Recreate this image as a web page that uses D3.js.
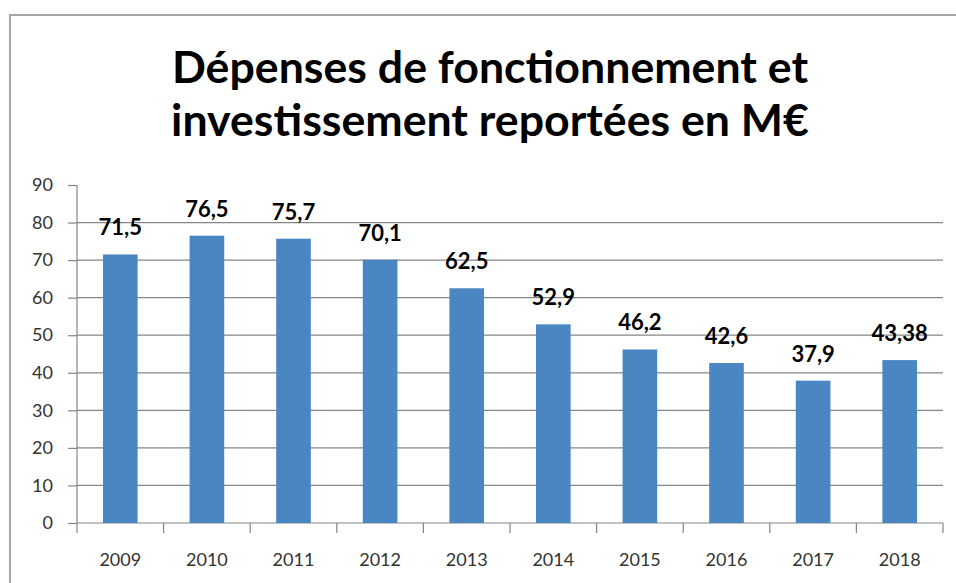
<!DOCTYPE html>
<html>
<head>
<meta charset="utf-8">
<script src="https://cdn.jsdelivr.net/npm/d3@7/dist/d3.min.js"></script>
<style>
  body { margin: 0; background: #fff; }
  svg { display: block; }
</style>
</head>
<body>
<svg id="chart" width="956" height="583"></svg>
<script>
const titleLines = ["Dépenses de fonctionnement et", "investissement reportées en M€"];
const years = ["2009", "2010", "2011", "2012", "2013", "2014", "2015", "2016", "2017", "2018"];
const values = [71.5, 76.5, 75.7, 70.1, 62.5, 52.9, 46.2, 42.6, 37.9, 43.38];
const valueLabels = ["71,5", "76,5", "75,7", "70,1", "62,5", "52,9", "46,2", "42,6", "37,9", "43,38"];
const yTicks = [0, 10, 20, 30, 40, 50, 60, 70, 80, 90];

const svg = d3.select("#chart");
const font = "Lato, 'Open Sans', sans-serif";
const plot = {left: 77, right: 943, top: 185, bottom: 523};

// outer frame
svg.append("rect")
    .attr("x", 10).attr("y", 15)
    .attr("width", 960).attr("height", 600)
    .attr("fill", "none")
    .attr("stroke", "#a6a6a6")
    .attr("stroke-width", 2);

// title
const title = svg.append("g");
title.selectAll("text")
    .data(titleLines)
    .enter()
    .append("text")
    .attr("x", 490)
    .attr("y", (d, i) => 83 + i * 53)
    .attr("text-anchor", "middle")
    .style("font-family", font)
    .style("font-weight", "bold")
    .style("font-size", "44px")
    .attr("fill", "#000")
    .text(d => d);
// fit the second line to its width in the picture
const w2 = title.selectAll("text").nodes()[1].getComputedTextLength();
title.selectAll("text").style("font-size", (44 * 638 / w2) + "px");

const x = d3.scaleBand()
    .domain(years)
    .range([plot.left, plot.right])
    .paddingInner(0.6)
    .paddingOuter(0.3);
const y = d3.scaleLinear()
    .domain([0, 90])
    .range([plot.bottom, plot.top]);

// gridlines
svg.append("g")
    .selectAll("line")
    .data(yTicks.filter(d => d > 0 && d < 90))
    .enter()
    .append("line")
    .attr("x1", plot.left).attr("x2", plot.right)
    .attr("y1", d => y(d)).attr("y2", d => y(d))
    .attr("stroke", "#868686")
    .attr("stroke-width", 1.2);

// y axis
const yAxis = svg.append("g")
    .attr("transform", `translate(${plot.left},0)`)
    .call(d3.axisLeft(y).tickValues(yTicks).tickSize(9).tickPadding(15).tickFormat(d3.format("d")));
yAxis.select(".domain").attr("stroke", "#868686").attr("stroke-width", 1.2)
    .attr("d", `M0,${plot.top}V${plot.bottom + 10}`);
yAxis.selectAll(".tick line").attr("stroke", "#868686").attr("stroke-width", 1.2);
yAxis.selectAll(".tick text")
    .style("font-family", font).style("font-size", "18px").attr("fill", "#333");

// x axis: ticks at band boundaries
const step = x.step();
const xAxis = svg.append("g")
    .attr("transform", `translate(0,${plot.bottom})`);
xAxis.append("line")
    .attr("x1", plot.left).attr("x2", plot.right)
    .attr("stroke", "#868686").attr("stroke-width", 1.2);
xAxis.selectAll("line.tk")
    .data(years)
    .enter()
    .append("line")
    .attr("class", "tk")
    .attr("x1", d => x(d) - x.bandwidth() * 0.75 + step)
    .attr("x2", d => x(d) - x.bandwidth() * 0.75 + step)
    .attr("y1", 0).attr("y2", 10)
    .attr("stroke", "#868686").attr("stroke-width", 1.2);
xAxis.selectAll("text")
    .data(years)
    .enter()
    .append("text")
    .attr("x", d => x(d) + x.bandwidth() / 2)
    .attr("y", 43)
    .attr("text-anchor", "middle")
    .style("font-family", font).style("font-size", "18px")
    .attr("fill", "#333")
    .text(d => d);

// bars
svg.append("g")
    .selectAll("rect")
    .data(values)
    .enter()
    .append("rect")
    .attr("x", (d, i) => x(years[i]))
    .attr("y", d => y(d))
    .attr("width", x.bandwidth())
    .attr("height", d => plot.bottom - y(d))
    .attr("fill", "#4a86c2");

// value labels
svg.append("g")
    .selectAll("text")
    .data(values)
    .enter()
    .append("text")
    .attr("x", (d, i) => x(years[i]) + x.bandwidth() / 2)
    .attr("y", d => y(d) - 19)
    .attr("text-anchor", "middle")
    .style("font-family", font)
    .style("font-weight", "bold")
    .style("font-size", "22px")
    .attr("fill", "#000")
    .text((d, i) => valueLabels[i]);
</script>
</body>
</html>
